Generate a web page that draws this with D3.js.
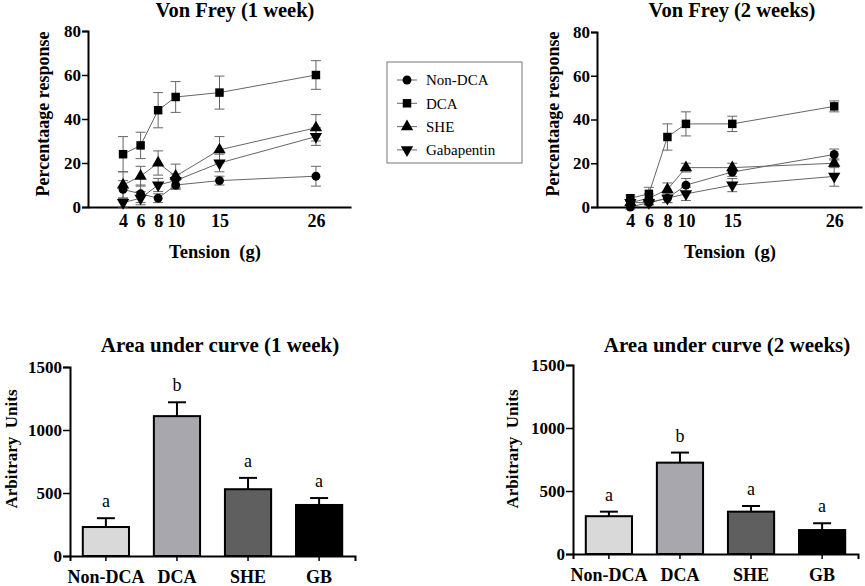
<!DOCTYPE html>
<html>
<head>
<meta charset="utf-8">
<script src="https://cdn.jsdelivr.net/npm/d3@7"></script>
<style>
  body { margin: 0; background: #fff; }
  svg, svg text { font-family: "Liberation Serif", "Times New Roman", serif; }
</style>
</head>
<body>
<div id="chart"></div>
<script>
// Data
const tension = [4, 6, 8, 10, 15, 26];
const groups = ["Non-DCA", "DCA", "SHE", "Gabapentin"];

// Von Frey, 1 week (mean, sem)
const nonDca1 = [8, 6, 4, 10, 12, 14];
const nonDca1Err = [4, 4, 2, 2, 2, 4.5];
const dca1 = [24, 28, 44, 50, 52, 60];
const dca1Err = [8, 6, 8, 7, 7.5, 6.5];
const she1 = [10, 14, 20, 14, 26, 36];
const she1Err = [6, 4.5, 5.5, 5.5, 6, 6];
const gaba1 = [2, 4, 10, 12, 20, 32];
const gaba1Err = [2, 3, 3, 3, 4, 4];

// Von Frey, 2 weeks
const nonDca2 = [0, 2, 4, 10, 16, 24];
const nonDca2Err = [1, 1, 2, 3, 2, 2.5];
const dca2 = [4, 6, 32, 38, 38, 46];
const dca2Err = [1.5, 3, 6, 5.5, 3.5, 2.5];
const she2 = [2, 4, 8, 18, 18, 20];
const she2Err = [1, 2, 3, 2, 2, 2];
const gaba2 = [2, 2, 4, 6, 10, 14];
const gaba2Err = [1, 1, 2, 3, 3, 4.5];

// Area under curve
const barCats = ["Non-DCA", "DCA", "SHE", "GB"];
const auc1 = [230, 1110, 530, 405];
const auc1Err = [70, 110, 90, 55];
const auc2 = [300, 725, 336, 190];
const auc2Err = [36, 80, 45, 54];
const letters1 = ["a", "b", "a", "a"];
const letters2 = ["a", "b", "a", "a"];
const barColors = ["#d9d9d9", "#a7a7ad", "#5f5f5f", "#000000"];

const svg = d3.select("#chart").append("svg")
    .attr("width", 865)
    .attr("height", 586);

// symbol for each group
const symbols = [
    { type: d3.symbolCircle, size: 62, rot: 0 },
    { type: d3.symbolSquare, size: 72, rot: 0 },
    { type: d3.symbolTriangle, size: 66, rot: 0 },
    { type: d3.symbolTriangle, size: 66, rot: 180 }
];

const serif = '"Liberation Serif", "Times New Roman", serif';

function styleAxis(g, size) {
    g.attr("font-family", serif);
    g.select(".domain").attr("stroke", "#000").attr("stroke-width", 2);
    g.selectAll(".tick line").attr("stroke", "#000").attr("stroke-width", 1.5);
    g.selectAll(".tick text")
        .attr("fill", "#000")
        .style("font-family", serif)
        .style("font-size", size + "px")
        .style("font-weight", "bold");
}

// Line chart panel
function drawLines(opt) {
    const x = d3.scaleLinear().domain(opt.xDomain).range(opt.xRange);
    const y = d3.scaleLinear().domain([0, 80]).range(opt.yRange);
    const g = svg.append("g");

    const yAxis = g.append("g")
        .attr("transform", `translate(${opt.xRange[0]},0)`)
        .call(d3.axisLeft(y).tickValues([0, 20, 40, 60, 80]).tickSize(6).tickPadding(1));
    styleAxis(yAxis, 17);

    const xAxis = g.append("g")
        .attr("transform", `translate(0,${opt.yRange[0]})`)
        .call(d3.axisBottom(x).tickValues(tension).tickSize(0).tickPadding(7));
    styleAxis(xAxis, 18);

    const line = d3.line().x((d, i) => x(tension[i])).y(d => y(d));

    opt.series.forEach((s, k) => {
        // error bars
        const eb = g.append("g").attr("stroke", "#666").attr("stroke-width", 1);
        s.values.forEach((v, i) => {
            const cx = x(tension[i]);
            eb.append("line").attr("x1", cx).attr("x2", cx)
                .attr("y1", y(v - s.err[i])).attr("y2", y(v + s.err[i]));
            [v - s.err[i], v + s.err[i]].forEach(e => {
                eb.append("line").attr("x1", cx - 5).attr("x2", cx + 5)
                    .attr("y1", y(e)).attr("y2", y(e));
            });
        });
        g.append("path")
            .datum(s.values)
            .attr("fill", "none")
            .attr("stroke", "#666")
            .attr("stroke-width", 1)
            .attr("d", line);
    });

    opt.series.forEach((s, k) => {
        const sym = symbols[k];
        g.selectAll(null)
            .data(s.values)
            .enter()
            .append("path")
            .attr("d", d3.symbol().type(sym.type).size(sym.size))
            .attr("transform", (d, i) => `translate(${x(tension[i])},${y(d)}) rotate(${sym.rot})`)
            .attr("fill", "#000");
    });

    g.append("text")
        .attr("x", opt.titleX).attr("y", 17)
        .attr("text-anchor", "middle")
        .style("font-size", "20.5px").style("font-weight", "bold")
        .text(opt.title);

    g.append("text")
        .attr("transform", `translate(${opt.yLabelX},114) rotate(-90)`)
        .attr("text-anchor", "middle")
        .attr("dy", "0.35em")
        .style("font-size", "18px").style("font-weight", "bold")
        .text("Percentaage response");

    g.append("text")
        .attr("x", opt.xLabelX).attr("y", 258)
        .attr("text-anchor", "middle")
        .style("font-size", "18.5px").style("font-weight", "bold")
        .text("Tension\u00a0 (g)");
}

// Bar chart panel
function drawBars(opt) {
    const x = d3.scaleBand().domain(barCats).range(opt.xRange)
        .paddingInner(0.35).paddingOuter(0.18);
    const y = d3.scaleLinear().domain([0, 1500]).range(opt.yRange);
    const g = svg.append("g");

    // bars
    g.selectAll("rect")
        .data(opt.values)
        .enter()
        .append("rect")
        .attr("x", (d, i) => x(barCats[i]))
        .attr("y", d => y(d))
        .attr("width", x.bandwidth())
        .attr("height", d => y(0) - y(d))
        .attr("fill", (d, i) => barColors[i])
        .attr("stroke", "#000")
        .attr("stroke-width", 2);

    // upper error bars
    opt.values.forEach((v, i) => {
        const cx = x(barCats[i]) + x.bandwidth() / 2;
        g.append("line").attr("x1", cx).attr("x2", cx)
            .attr("y1", y(v)).attr("y2", y(v + opt.err[i]))
            .attr("stroke", "#000").attr("stroke-width", 2);
        g.append("line").attr("x1", cx - 9).attr("x2", cx + 9)
            .attr("y1", y(v + opt.err[i])).attr("y2", y(v + opt.err[i]))
            .attr("stroke", "#000").attr("stroke-width", 2);
        g.append("text")
            .attr("x", cx).attr("y", y(v + opt.err[i]) - 11)
            .attr("text-anchor", "middle")
            .style("font-size", "18px")
            .text(opt.letters[i]);
    });

    const yAxis = g.append("g")
        .attr("transform", `translate(${opt.xRange[0]},0)`)
        .call(d3.axisLeft(y).tickValues([0, 500, 1000, 1500]).tickFormat(d3.format("d"))
            .tickSize(7).tickPadding(1));
    styleAxis(yAxis, 17);

    const xAxis = g.append("g")
        .attr("transform", `translate(0,${opt.yRange[0]})`)
        .call(d3.axisBottom(x).tickSize(5).tickPadding(9));
    styleAxis(xAxis, 18);

    g.append("text")
        .attr("x", opt.titleX).attr("y", 352)
        .attr("text-anchor", "middle")
        .style("font-size", "21px").style("font-weight", "bold")
        .text(opt.title);

    g.append("text")
        .attr("transform", `translate(${opt.yLabelX},449) rotate(-90)`)
        .attr("text-anchor", "middle")
        .attr("dy", "0.35em")
        .style("font-size", "17px").style("font-weight", "bold")
        .text("Arbitrary\u00a0 Units");
}

drawLines({
    title: "Von Frey (1 week)", titleX: 235, yLabelX: 43, xLabelX: 215,
    xDomain: [0, 30], xRange: [88, 351], yRange: [207, 31],
    series: [
        { values: nonDca1, err: nonDca1Err },
        { values: dca1, err: dca1Err },
        { values: she1, err: she1Err },
        { values: gaba1, err: gaba1Err }
    ]
});

drawLines({
    title: "Von Frey (2 weeks)", titleX: 732, yLabelX: 553, xLabelX: 730,
    xDomain: [0.4, 29], xRange: [597, 862], yRange: [207, 32],
    series: [
        { values: nonDca2, err: nonDca2Err },
        { values: dca2, err: dca2Err },
        { values: she2, err: she2Err },
        { values: gaba2, err: gaba2Err }
    ]
});

drawBars({
    title: "Area under curve (1 week)", titleX: 220, yLabelX: 11,
    xRange: [70, 355], yRange: [556, 367],
    values: auc1, err: auc1Err, letters: letters1
});

drawBars({
    title: "Area under curve (2 weeks)", titleX: 727, yLabelX: 512,
    xRange: [573, 858], yRange: [554, 365],
    values: auc2, err: auc2Err, letters: letters2
});

// Legend
const legend = svg.append("g");
legend.append("rect")
    .attr("x", 387).attr("y", 62).attr("width", 135).attr("height", 101)
    .attr("fill", "#fff").attr("stroke", "#777").attr("stroke-width", 1);
groups.forEach((name, k) => {
    const ly = 80 + k * 23.3;
    legend.append("line").attr("x1", 397).attr("x2", 417)
        .attr("y1", ly).attr("y2", ly).attr("stroke", "#666").attr("stroke-width", 1);
    legend.append("path")
        .attr("d", d3.symbol().type(symbols[k].type).size(symbols[k].size))
        .attr("transform", `translate(407,${ly}) rotate(${symbols[k].rot})`)
        .attr("fill", "#000");
    legend.append("text")
        .attr("x", 426).attr("y", ly).attr("dy", "0.35em")
        .style("font-size", "15px")
        .text(name);
});
</script>
</body>
</html>
